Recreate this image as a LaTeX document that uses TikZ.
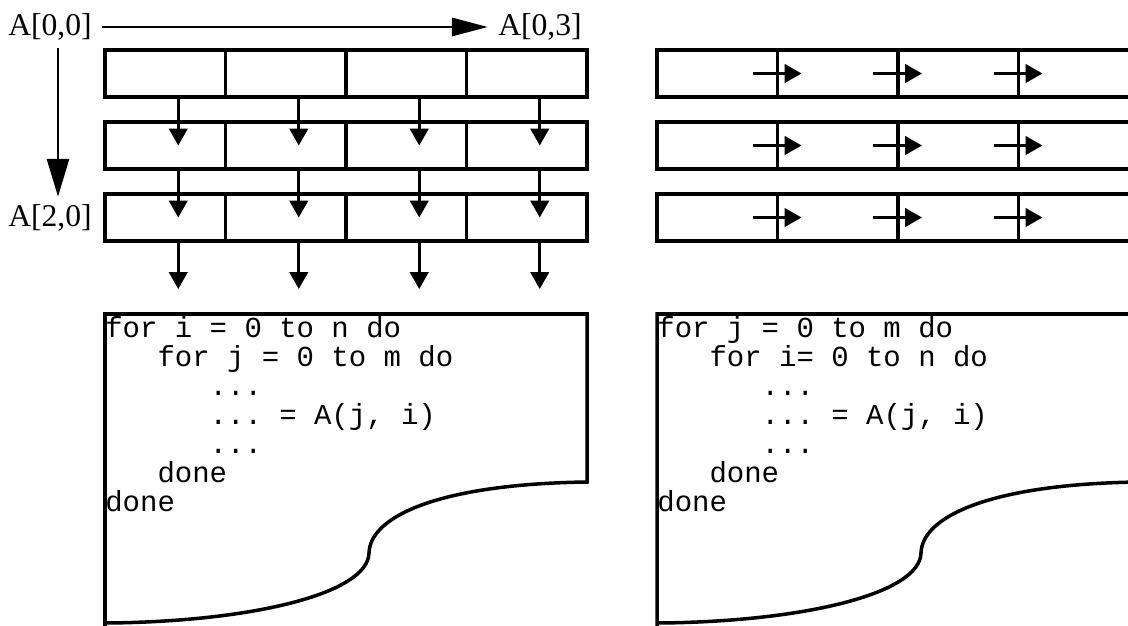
\documentclass[tikz,border=0pt]{standalone}
\usepackage{fontspec}
\setmainfont{Liberation Serif}
\setmonofont{Liberation Mono}
\usetikzlibrary{arrows.meta,calc}

\begin{document}
\begin{tikzpicture}[x=0.02cm, y=-0.02cm,
    cellbox/.style={draw, line width=2pt, minimum width=2.41cm,
      minimum height=0.94cm, inner sep=0pt, outer sep=0pt},
    flow/.style={-{Triangle[length=0.34cm,width=0.37cm]}, line width=1.7pt},
    idxtext/.style={font=\fontsize{18}{20}\selectfont, inner xsep=0.2cm,
      inner ysep=0.15cm},
    codetext/.style={font=\ttfamily\fontsize{16.5}{16.5}\selectfont,
      inner sep=0pt, align=left, anchor=north west}]
    \useasboundingbox (0,0) rectangle (1128,625);
    \clip (0,0) rectangle (1128,625);

    % index labels and direction arrows
    \node[idxtext] (a00) at (50,27) {A[0,0]};
    \node[idxtext] (a03) at (540,27) {A[0,3]};
    \node[idxtext] (a20) at (50,218) {A[2,0]};
    \draw[-{Triangle[length=0.72cm,width=0.36cm]},line width=1.7pt]
      (a00) -- (a03);
    \draw[-{Triangle[length=0.76cm,width=0.44cm]},line width=1.7pt]
      ($(a00.south)+(8,0)$) -- ($(a20.north)+(8,0)$);

    % the two arrays
    \foreach \r in {1,2,3}
      \foreach \c in {1,...,4} {
        \node[cellbox] (L-\r-\c) at ({105+120.5*(\c-0.5)},{1.5+72*\r}) {};
        \node[cellbox] (R-\r-\c) at ({657+120.5*(\c-0.5)},{1.5+72*\r}) {};
      }

    % column order
    \foreach \c in {1,...,4} {
      \draw[flow] ($(L-1-\c.south)+(13,0)$) -- ($(L-2-\c.center)+(13,0)$);
      \draw[flow] ($(L-2-\c.south)+(13,0)$) -- ($(L-3-\c.center)+(13,0)$);
      \coordinate (out-\c) at ($(L-3-\c.south)+(13,48)$);
      \draw[flow] ($(L-3-\c.south)+(13,0)$) -- (out-\c);
    }

    % row order
    \foreach \r in {1,2,3}
      \foreach \c/\n in {1/2,2/3,3/4}
        \draw[flow] ($(R-\r-\c.east)+(-25,0)$) -- ($(R-\r-\n.west)+(24,0)$);

    % torn code sheets
    \foreach \dx in {0,552}
      \draw[line width=2pt,shift={(\dx,0)}] (105,630) -- (105,314)
        -- (587,314) -- (587,482)
        .. controls (440,484) and (370,516) .. (369,553)
        .. controls (368,594) and (250,622) .. (105,623);

    \node[codetext] (ijloop) at (105,316) {for i = 0 to n do\\
      ~~~for j = 0 to m do\\
      ~~~~~~...\\
      ~~~~~~... = A(j, i)\\
      ~~~~~~...\\
      ~~~done\\
      done};
    \node[codetext] (jiloop) at (657,316) {for j = 0 to m do\\
      ~~~for i= 0 to n do\\
      ~~~~~~...\\
      ~~~~~~... = A(j, i)\\
      ~~~~~~...\\
      ~~~done\\
      done};
  \end{tikzpicture}
\end{document}
